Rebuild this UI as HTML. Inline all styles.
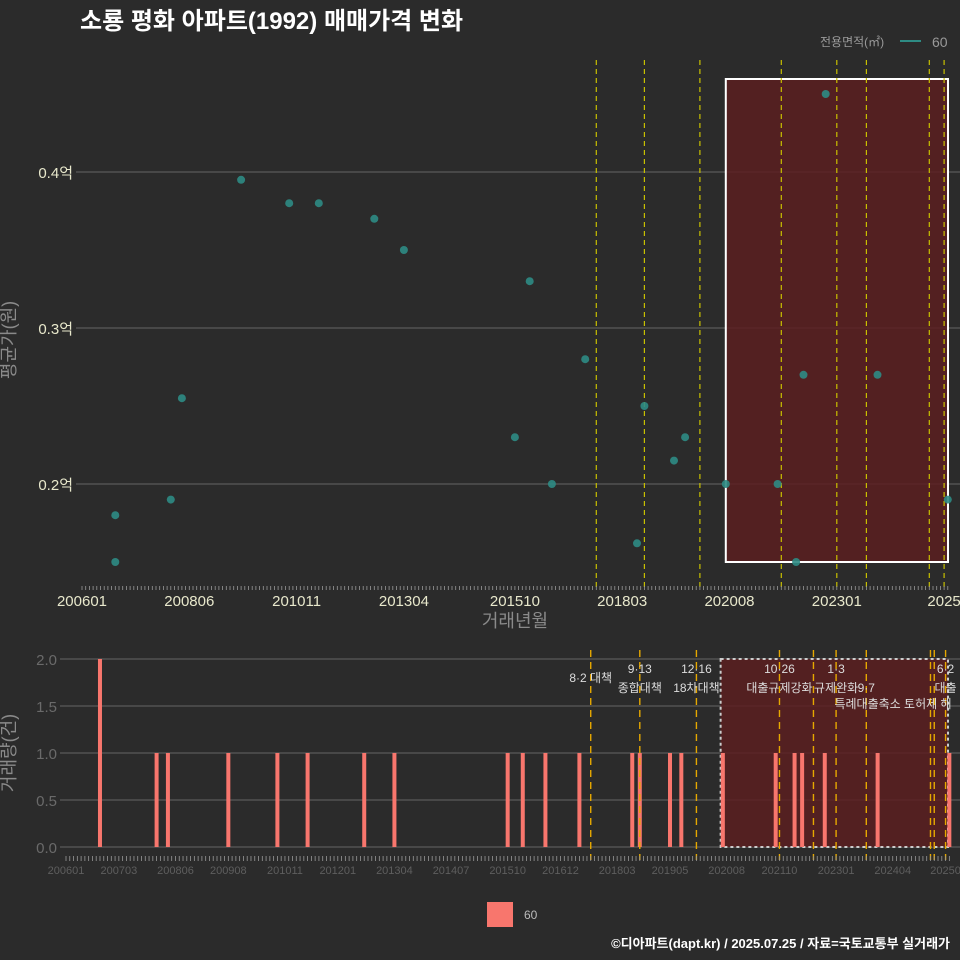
<!DOCTYPE html>
<html><head><meta charset="utf-8">
<style>
body{margin:0;background:#2b2b2b;}
svg{display:block;font-family:"Liberation Sans","Noto Sans CJK KR",sans-serif;}
</style></head>
<body>
<svg id="chart" width="960" height="960" viewBox="0 0 960 960" xmlns="http://www.w3.org/2000/svg">
<rect width="960" height="960" fill="#2b2b2b"/>
<text x="80" y="29" font-size="24" font-weight="bold" fill="#ffffff">소룡 평화 아파트(1992) 매매가격 변화</text>
<g>
<text x="820" y="46" font-size="12" fill="#9a9a9a">전용면적(㎡)</text>
<line x1="900" y1="41" x2="921" y2="41" stroke="#2e8b84" stroke-width="2"/>
<text x="932" y="47" font-size="14" fill="#9a9a9a">60</text>
</g>
<g id="topPanel"></g>
<g id="botPanel"></g>
<text x="15" y="340" font-size="18" fill="#8a8a8a" text-anchor="middle" transform="rotate(-90 15 340)">평균가(원)</text>
<text x="515" y="627" font-size="18" fill="#8a8a8a" text-anchor="middle">거래년월</text>
<text x="15" y="753" font-size="18" fill="#8a8a8a" text-anchor="middle" transform="rotate(-90 15 753)">거래량(건)</text>
<g>
<rect x="487" y="902" width="26" height="25" fill="#f8766d"/>
<text x="524" y="919" font-size="12" fill="#bbbbbb">60</text>
</g>
<text x="950" y="948" font-size="13" font-weight="bold" fill="#ffffff" text-anchor="end">©디아파트(dapt.kr) / 2025.07.25 / 자료=국토교통부 실거래가</text>
</svg>
<script>
const priceMonths=["200610","200610","200801","200804","200908","201009","201105","201208","201304","201510","201602","201608","201705","201807","201809","201905","201908","202007","202109","202202","202204","202210","202312","202507"];
const priceValues=[0.18,0.15,0.19,0.255,0.395,0.38,0.38,0.37,0.35,0.23,0.33,0.20,0.28,0.162,0.25,0.215,0.23,0.20,0.20,0.15,0.27,0.45,0.27,0.19];
const volMonths=["200610","200801","200804","200908","201009","201105","201208","201304","201510","201602","201608","201705","201807","201809","201905","201908","202007","202109","202202","202204","202210","202312","202507"];
const volValues=[2,1,1,1,1,1,1,1,1,1,1,1,1,1,1,1,1,1,1,1,1,1,1];
const topTicks=["200601","200806","201011","201304","201510","201803","202008","202301","202506"];
const topTickLabels=["200601","200806","201011","201304","201510","201803","202008","202301","2025"];
const botTicks=["200601","200703","200806","200908","201011","201201","201304","201407","201510","201612","201803","201905","202008","202110","202301","202404","202506"];
const botTickLabels=["200601","200703","200806","200908","201011","201201","201304","201407","201510","201612","201803","201905","202008","202110","202301","202404","20250"];
const priceTicks=[0.2,0.3,0.4];
const priceTickLabels=["0.2억","0.3억","0.4억"];
const volTicks=[0,0.5,1,1.5,2];
const volTickLabels=["0.0","0.5","1.0","1.5","2.0"];
const policyMonths=["201708","201809","201912","202110","202207","202301","202309","202502","202503","202506"];
const policyLabels1=["","9·13","12·16","10·26","","1·3","","","","6·2"];
const policyLabels2=["8·2 대책","종합대책","18차대책","대출규제강화","","규제완화","9·7","","","대출"];
const topPolicyShown=[true,true,true,true,false,true,true,true,false,true];

const NS="http://www.w3.org/2000/svg";
function idx(m){return (parseInt(m.slice(0,4))-2006)*12+parseInt(m.slice(4))-1;}
function xt(m){return 82+idx(m)*3.7;}
function xb(m){return 66+idx(m)*3.775;}
function yt(v){return 484-(v-0.2)*1560;}
function yb(v){return 847-v*94;}
function mk(p,t,a){const e=document.createElementNS(NS,t);for(const k in a)e.setAttribute(k,a[k]);p.appendChild(e);return e;}
const topG=document.getElementById('topPanel'),botG=document.getElementById('botPanel');

priceTicks.forEach((v,i)=>{
 const l=mk(topG,'line',{x1:76,x2:960,y1:yt(v),y2:yt(v),stroke:'#5a5a5a','stroke-width':1.2});
 
 
 const t=mk(topG,'text',{x:73,y:yt(v)+6,'font-size':15,fill:'#e8e8cc','text-anchor':'end'});t.textContent=priceTickLabels[i];
 
 
});
let r=mk(topG,'rect',{x:xt("202007"),y:79,width:948-xt("202007"),height:483,fill:'#5a1e20','fill-opacity':0.85,stroke:'#ffffff','stroke-width':2});


policyMonths.forEach((m,i)=>{ if(!topPolicyShown[i])return;
 const l=mk(topG,'line',{x1:xt(m),x2:xt(m),y1:60,y2:590,stroke:'#c8c000','stroke-width':1.2,'stroke-dasharray':'5,4'});
 
 
});
for(let k=0;k<=234;k++){const l=mk(topG,'line',{x1:82+k*3.7,x2:82+k*3.7,y1:586,y2:590,stroke:'#999','stroke-width':0.8});
 
 }
topTicks.forEach((m,i)=>{const t=mk(topG,'text',{x:xt(m),y:606,'font-size':15,fill:'#e8e8cc','text-anchor':'middle'});t.textContent=topTickLabels[i];
 
 });
priceMonths.forEach((m,i)=>{const c=mk(topG,'circle',{cx:xt(m),cy:yt(priceValues[i]),r:4,fill:'#2e8b84','fill-opacity':0.9});
 
 });

volTicks.forEach((v,i)=>{
 const l=mk(botG,'line',{x1:60,x2:960,y1:yb(v),y2:yb(v),stroke:'#5a5a5a','stroke-width':1.2});
 
 
 const t=mk(botG,'text',{x:57,y:yb(v)+6,'font-size':15,fill:'#6a6a6a','text-anchor':'end'});t.textContent=volTickLabels[i];
 
 
});
r=mk(botG,'rect',{x:xb("202008")-6,y:659,width:948-xb("202008")+6,height:188,fill:'#5a1e20','fill-opacity':0.85,stroke:'#cccccc','stroke-width':2,'stroke-dasharray':'3,3'});


volMonths.forEach((m,i)=>{const b=mk(botG,'rect',{x:xb(m)-2,y:yb(volValues[i]),width:4,height:yb(0)-yb(volValues[i]),fill:'#f8766d'});
 
 });
policyMonths.forEach((m,i)=>{
 const x=xb(m);
 const l=mk(botG,'line',{x1:x,x2:x,y1:650,y2:860,stroke:'#e6a800','stroke-width':1.4,'stroke-dasharray':'7,5'});
 
 
 if(policyLabels1[i]){const t=mk(botG,'text',{x:x,y:673,'font-size':12,fill:'#dddddd','text-anchor':'middle'});t.textContent=policyLabels1[i];
  
  }
 if(policyLabels2[i]){const t=mk(botG,'text',{x:x,y:i===0?682:692,'font-size':12,fill:'#dddddd','text-anchor':'middle'});t.textContent=policyLabels2[i];
  
  }
});
let t2=mk(botG,'text',{x:893,y:708,'font-size':12,fill:'#dddddd','text-anchor':'middle'});t2.textContent="특례대출축소 토허제 해";


for(let k=0;k<=234;k++){const l=mk(botG,'line',{x1:66+k*3.775,x2:66+k*3.775,y1:856,y2:861,stroke:'#999','stroke-width':0.8});
 
 }
botTicks.forEach((m,i)=>{const t=mk(botG,'text',{x:xb(m),y:874,'font-size':11,fill:'#5e5e5e','text-anchor':'middle'});t.textContent=botTickLabels[i];
 
 });
</script>
</body></html>
